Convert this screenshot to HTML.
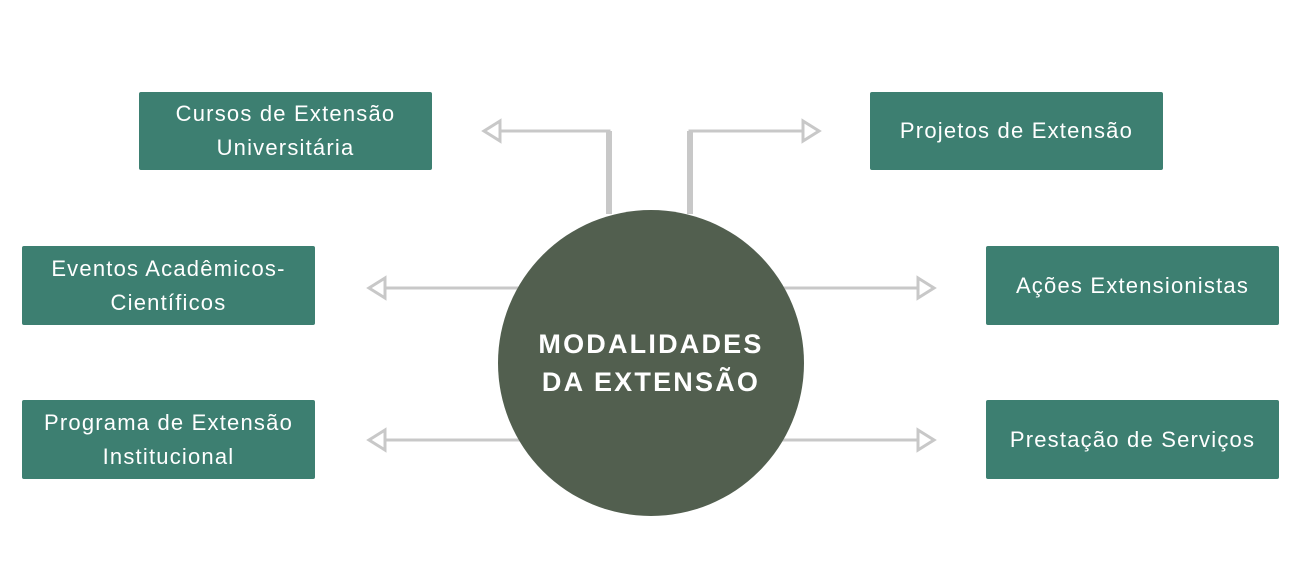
<!DOCTYPE html>
<html><head><style>
body{margin:0;width:1299px;height:568px;background:#fff;position:relative;overflow:hidden;font-family:"Liberation Sans",sans-serif}
.b{position:absolute;background:#3d7f71;color:#fff;font-size:22px;letter-spacing:1.2px;display:flex;align-items:center;justify-content:center;text-align:center;line-height:34px;border-radius:2px}
.c{position:absolute;left:498px;top:210px;width:306px;height:306px;border-radius:50%;background:#525f4f;color:#fff;font-weight:bold;font-size:27px;letter-spacing:2.2px;display:flex;align-items:center;justify-content:center;text-align:center;line-height:38px}
svg{position:absolute;left:0;top:0}
</style></head><body>
<svg width="1299" height="568" fill="none" stroke="#c8c8c8" stroke-width="3">
<path d="M609 214V131H500"/><path d="M500 121L484 131L500 141Z"/>
<path d="M690 214V131H803"/><path d="M803 121L819 131L803 141Z"/>
<path d="M520 288H385"/><path d="M385 278L369 288L385 298Z"/>
<path d="M780 288H918"/><path d="M918 278L934 288L918 298Z"/>
<path d="M520 440H385"/><path d="M385 430L369 440L385 450Z"/>
<path d="M780 440H918"/><path d="M918 430L934 440L918 450Z"/>
<path d="M609 214V131" stroke-width="6"/><path d="M690 214V131" stroke-width="6"/>
</svg>
<div class="b" style="left:139px;top:92px;width:293px;height:78px">Cursos de Extensão<br>Universitária</div>
<div class="b" style="left:870px;top:92px;width:293px;height:78px">Projetos de Extensão</div>
<div class="b" style="left:22px;top:246px;width:293px;height:79px">Eventos Acadêmicos-<br>Científicos</div>
<div class="b" style="left:986px;top:246px;width:293px;height:79px">Ações Extensionistas</div>
<div class="b" style="left:22px;top:400px;width:293px;height:79px">Programa de Extensão<br>Institucional</div>
<div class="b" style="left:986px;top:400px;width:293px;height:79px">Prestação de Serviços</div>
<div class="c">MODALIDADES<br>DA EXTENSÃO</div>
</body></html>
